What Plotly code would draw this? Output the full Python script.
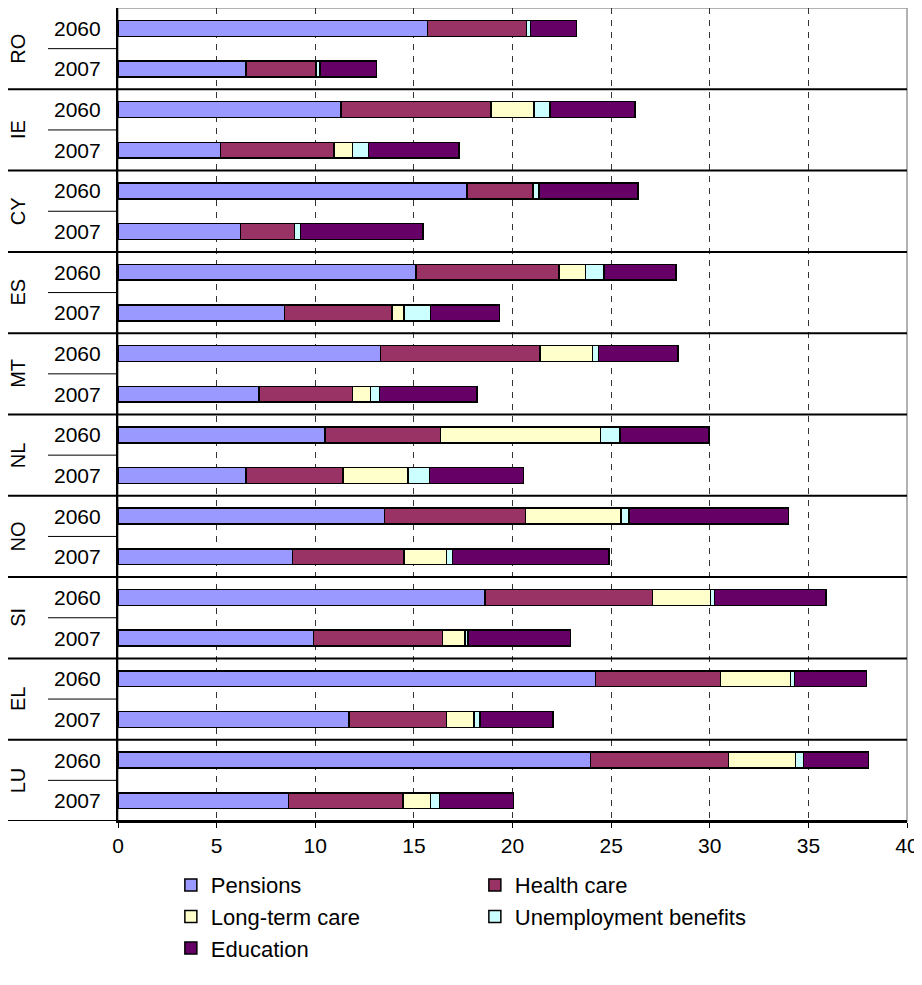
import plotly.graph_objects as go

countries = ["RO", "IE", "CY", "ES", "MT", "NL", "NO", "SI", "EL", "LU"]
years = ["2060", "2007"]

# one value per bar, ordered RO 2060, RO 2007, IE 2060, IE 2007, ...
pensions = [15.7, 6.5, 11.3, 5.2, 17.7, 6.2, 15.1, 8.45, 13.3, 7.15,
            10.5, 6.5, 13.5, 8.85, 18.6, 9.9, 24.2, 11.7, 23.95, 8.65]
health_care = [5.0, 3.55, 7.6, 5.75, 3.35, 2.75, 7.25, 5.45, 8.1, 4.75,
               5.85, 4.9, 7.15, 5.65, 8.5, 6.55, 6.35, 4.95, 7.0, 5.8]
long_term_care = [0, 0, 2.2, 0.95, 0, 0, 1.35, 0.6, 2.65, 0.9,
                  8.1, 3.3, 4.85, 2.15, 2.95, 1.15, 3.55, 1.4, 3.4, 1.4]
unemployment = [0.2, 0.2, 0.8, 0.8, 0.3, 0.3, 0.95, 1.35, 0.3, 0.45,
                1.0, 1.1, 0.4, 0.3, 0.2, 0.15, 0.2, 0.3, 0.4, 0.45]
education = [2.35, 2.85, 4.3, 4.6, 5.0, 6.2, 3.65, 3.5, 4.05, 4.95,
             4.5, 4.75, 8.1, 7.95, 5.65, 5.2, 3.65, 3.7, 3.3, 3.75]

series = [
    ("Pensions", pensions, "#9999FF"),
    ("Health care", health_care, "#993366"),
    ("Long-term care", long_term_care, "#FFFFCC"),
    ("Unemployment benefits", unemployment, "#CCFFFF"),
    ("Education", education, "#660066"),
]

FONT = "Liberation Sans, Arial, sans-serif"
rows = list(range(len(countries) * len(years)))
year_labels = [y for c in countries for y in years]

# page body has an 8px margin, so the figure is 8px smaller than the window
W, H = 914, 977
ML, MR, MT, MB = 110, 15, 0, 164

fig = go.Figure()
for name, vals, col in series:
    fig.add_trace(go.Bar(
        y=rows, x=vals, name=name, orientation="h", width=0.39,
        marker=dict(color=col, line=dict(color="black", width=1.5)),
    ))

plot_w = W - ML - MR
shapes = []
# plot border (grey top / right)
shapes.append(dict(type="rect", xref="paper", yref="paper", x0=0, x1=1, y0=0, y1=1,
                   line=dict(color="#999999", width=1.5), layer="below"))
for i in range(len(countries)):
    # short line between the two years
    shapes.append(dict(type="line", xref="paper", yref="y", x0=-70 / plot_w, x1=0,
                       y0=2 * i + 0.5, y1=2 * i + 0.5, line=dict(color="black", width=1)))
    # long line between countries
    shapes.append(dict(type="line", xref="paper", yref="y", x0=-ML / plot_w, x1=1,
                       y0=2 * i + 1.5, y1=2 * i + 1.5, line=dict(color="black", width=2)))

annotations = []
for r, lab in zip(rows, year_labels):
    annotations.append(dict(xref="paper", yref="y", x=0, y=r, text=lab, showarrow=False,
                            xanchor="right", xshift=-15, font=dict(size=21, family=FONT, color="black")))
for i, c in enumerate(countries):
    annotations.append(dict(xref="paper", yref="y", x=0, y=2 * i + 0.5, text=c, showarrow=False,
                            textangle=-90, xanchor="center", xshift=-100,
                            font=dict(size=20, family=FONT, color="black")))

fig.update_layout(
    barmode="stack",
    width=W, height=H,
    margin=dict(l=ML, r=MR, t=MT, b=MB),
    plot_bgcolor="white", paper_bgcolor="white",
    font=dict(family=FONT, size=21, color="black"),
    shapes=shapes, annotations=annotations,
    legend=dict(orientation="h", x=0.067, y=-0.053, xanchor="left", yanchor="top",
                entrywidth=259, entrywidthmode="pixels", traceorder="normal",
                font=dict(size=22, family=FONT, color="black")),
)
fig.update_xaxes(range=[0, 40], dtick=5, showgrid=True, gridcolor="#333333", griddash="6px,6px",
                 gridwidth=1, zeroline=False, showline=True, linecolor="black", linewidth=1.5,
                 ticks="outside", ticklen=5, tickcolor="black", tickfont=dict(size=21, family=FONT),
                 automargin=False)
fig.update_yaxes(range=[19.5, -0.5], showticklabels=False, showgrid=False, zeroline=False,
                 showline=True, linecolor="black", linewidth=1.5, ticks="", automargin=False)

fig.write_html("out.html")
